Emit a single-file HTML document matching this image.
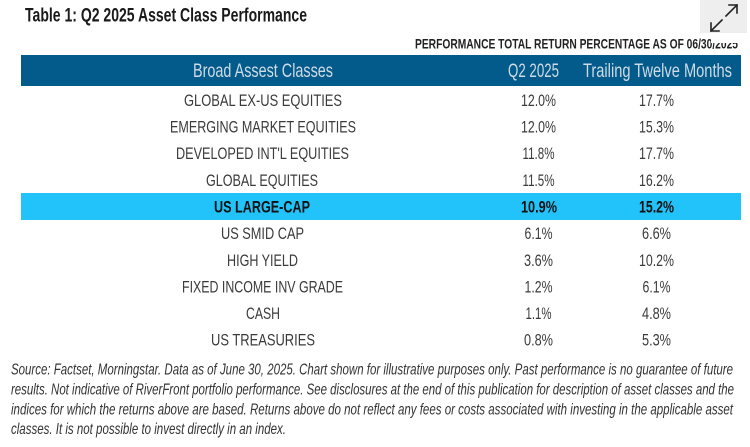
<!DOCTYPE html>
<html>
<head>
<meta charset="utf-8">
<style>
  html, body { margin: 0; padding: 0; background: #ffffff; }
  body { width: 750px; height: 447px; overflow: hidden; }
  svg { display: block; }
  text { font-family: "Liberation Sans", "DejaVu Sans", sans-serif; }
</style>
</head>
<body>
<svg width="750" height="447" viewBox="0 0 750 447" xmlns="http://www.w3.org/2000/svg">
  <rect x="0" y="0" width="750" height="447" fill="#ffffff"/>

  <!-- Title -->
  <text x="25" y="21.5" font-size="19" font-weight="bold" fill="#1a1a1a" textLength="282" lengthAdjust="spacingAndGlyphs">Table 1: Q2 2025 Asset Class Performance</text>

  <!-- Subtitle -->
  <text x="415" y="48.5" font-size="14" font-weight="bold" fill="#222222" textLength="323" lengthAdjust="spacingAndGlyphs">PERFORMANCE TOTAL RETURN PERCENTAGE AS OF 06/30/2025</text>
  <rect x="711" y="35" width="36" height="8" fill="#ffffff"/>

  <!-- Expand icon -->
  <rect x="700" y="0" width="47" height="33" fill="#eeeeee"/>
  <g stroke="#222222" stroke-width="1.6" fill="none" stroke-linecap="square">
    <line x1="726" y1="16" x2="737" y2="5"/>
    <polyline points="729,5 737,5 737,13"/>
    <line x1="711" y1="31" x2="722" y2="20"/>
    <polyline points="711,23 711,31 719,31"/>
  </g>

  <!-- Header bar -->
  <rect x="21" y="55" width="720" height="31" fill="#035b8b"/>
  <text x="263" y="77" font-size="19.5" fill="#cfdbe5" text-anchor="middle" textLength="140" lengthAdjust="spacingAndGlyphs">Broad Assest Classes</text>
  <text x="533.5" y="77" font-size="19.5" fill="#cfdbe5" text-anchor="middle" textLength="51" lengthAdjust="spacingAndGlyphs">Q2 2025</text>
  <text x="657.5" y="77" font-size="19.5" fill="#cfdbe5" text-anchor="middle" textLength="149" lengthAdjust="spacingAndGlyphs">Trailing Twelve Months</text>

  <!-- Highlight row -->
  <rect x="21" y="193" width="720" height="27" fill="#22c3fa"/>

  <!-- Rows -->
  <g font-size="17" fill="#3a3a3a" text-anchor="middle">
    <text x="263" y="106" textLength="158" lengthAdjust="spacingAndGlyphs">GLOBAL EX-US EQUITIES</text>
    <text x="538.5" y="106" textLength="35" lengthAdjust="spacingAndGlyphs">12.0%</text>
    <text x="656.5" y="106" textLength="35" lengthAdjust="spacingAndGlyphs">17.7%</text>

    <text x="263" y="132.5" textLength="186" lengthAdjust="spacingAndGlyphs">EMERGING MARKET EQUITIES</text>
    <text x="538.5" y="132.5" textLength="35" lengthAdjust="spacingAndGlyphs">12.0%</text>
    <text x="656.5" y="132.5" textLength="35" lengthAdjust="spacingAndGlyphs">15.3%</text>

    <text x="262.5" y="159" textLength="173" lengthAdjust="spacingAndGlyphs">DEVELOPED INT'L EQUITIES</text>
    <text x="538.5" y="159" textLength="32" lengthAdjust="spacingAndGlyphs">11.8%</text>
    <text x="656.5" y="159" textLength="35" lengthAdjust="spacingAndGlyphs">17.7%</text>

    <text x="262" y="186" textLength="112" lengthAdjust="spacingAndGlyphs">GLOBAL EQUITIES</text>
    <text x="538.5" y="186" textLength="32" lengthAdjust="spacingAndGlyphs">11.5%</text>
    <text x="656.5" y="186" textLength="35" lengthAdjust="spacingAndGlyphs">16.2%</text>

    <text x="262" y="212.5" textLength="96" lengthAdjust="spacingAndGlyphs" font-weight="bold" fill="#111111">US LARGE-CAP</text>
    <text x="539" y="212.5" textLength="36" lengthAdjust="spacingAndGlyphs" font-weight="bold" fill="#111111">10.9%</text>
    <text x="656.5" y="212.5" textLength="35" lengthAdjust="spacingAndGlyphs" font-weight="bold" fill="#111111">15.2%</text>

    <text x="262.5" y="239" textLength="83" lengthAdjust="spacingAndGlyphs">US SMID CAP</text>
    <text x="538.5" y="239" textLength="28" lengthAdjust="spacingAndGlyphs">6.1%</text>
    <text x="656.5" y="239" textLength="29" lengthAdjust="spacingAndGlyphs">6.6%</text>

    <text x="262.5" y="266" textLength="71" lengthAdjust="spacingAndGlyphs">HIGH YIELD</text>
    <text x="538.5" y="266" textLength="29" lengthAdjust="spacingAndGlyphs">3.6%</text>
    <text x="656.5" y="266" textLength="35" lengthAdjust="spacingAndGlyphs">10.2%</text>

    <text x="262.5" y="292.5" textLength="161" lengthAdjust="spacingAndGlyphs">FIXED INCOME INV GRADE</text>
    <text x="538.5" y="292.5" textLength="28" lengthAdjust="spacingAndGlyphs">1.2%</text>
    <text x="656.5" y="292.5" textLength="28" lengthAdjust="spacingAndGlyphs">6.1%</text>

    <text x="263" y="319" textLength="34" lengthAdjust="spacingAndGlyphs">CASH</text>
    <text x="538.5" y="319" textLength="26" lengthAdjust="spacingAndGlyphs">1.1%</text>
    <text x="656.5" y="319" textLength="29" lengthAdjust="spacingAndGlyphs">4.8%</text>

    <text x="263" y="345.5" textLength="104" lengthAdjust="spacingAndGlyphs">US TREASURIES</text>
    <text x="538.5" y="345.5" textLength="29" lengthAdjust="spacingAndGlyphs">0.8%</text>
    <text x="656.5" y="345.5" textLength="29" lengthAdjust="spacingAndGlyphs">5.3%</text>
  </g>

  <!-- Footnote -->
  <g font-size="16" font-style="italic" fill="#333333">
    <text x="11" y="374.5" textLength="722" lengthAdjust="spacingAndGlyphs">Source: Factset, Morningstar. Data as of June 30, 2025. Chart shown for illustrative purposes only. Past performance is no guarantee of future</text>
    <text x="11" y="394.5" textLength="723" lengthAdjust="spacingAndGlyphs">results. Not indicative of RiverFront portfolio performance. See disclosures at the end of this publication for description of asset classes and the</text>
    <text x="11" y="414.5" textLength="722" lengthAdjust="spacingAndGlyphs">indices for which the returns above are based. Returns above do not reflect any fees or costs associated with investing in the applicable asset</text>
    <text x="11" y="434" textLength="275" lengthAdjust="spacingAndGlyphs">classes. It is not possible to invest directly in an index.</text>
  </g>
</svg>
</body>
</html>
